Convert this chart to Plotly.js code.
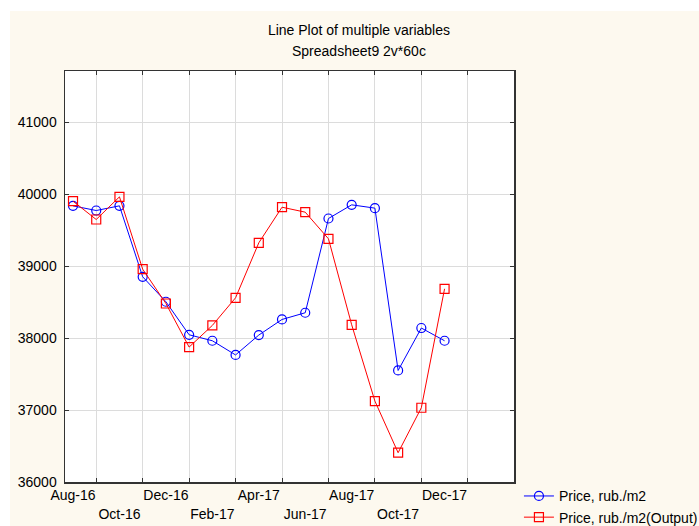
<!DOCTYPE html>
<html>
<head>
<meta charset="utf-8">
<script src="https://cdn.plot.ly/plotly-3.0.1.min.js"></script>
<style>
  html, body { margin: 0; padding: 0; background: #ffffff; }
  #chart { position: absolute; left: 10px; top: 11px; width: 689px; height: 515px; }
</style>
</head>
<body>
<div id="chart"></div>
<script>
// Month categories (cases)
const months = ["Aug-16","Sep-16","Oct-16","Nov-16","Dec-16","Jan-17","Feb-17","Mar-17",
                "Apr-17","May-17","Jun-17","Jul-17","Aug-17","Sep-17","Oct-17","Nov-17","Dec-17"];
// Series values
const priceActual = [39838, 39773, 39838, 38852, 38505, 38046, 37963, 37766, 38042,
                     38259, 38352, 39662, 39852, 39806, 37550, 38140, 37963];
const priceOutput = [39903, 39648, 39963, 38958, 38481, 37875, 38176, 38560, 39324,
                     39819, 39750, 39380, 38185, 37125, 36407, 37032, 38685];
const seriesNames = ["Price, rub./m2", "Price, rub./m2(Output)"];
const yTicks = [36000, 37000, 38000, 39000, 40000, 41000];

const idx = months.map((_, i) => i);
// labelled months: every second case, alternating rows
const labelVals = idx.filter(i => i % 2 === 0);
const labelText = labelVals.map((i, k) => (k % 2 === 1 ? "<br>" : "") + months[i]);
// grid/tick positions: the cases in between
const gridVals = idx.filter(i => i % 2 === 1).concat([months.length]);

const font = { family: "Liberation Sans, Arial, sans-serif", size: 14, color: "#000" };

const traces = [
  {
    x: idx, y: priceActual, name: seriesNames[0], type: "scatter", mode: "lines+markers",
    line: { color: "#0000ff", width: 1 },
    marker: { symbol: "circle-open", size: 9, color: "#0000ff", line: { width: 1.2 } }
  },
  {
    x: idx, y: priceOutput, name: seriesNames[1], type: "scatter", mode: "lines+markers",
    line: { color: "#ff0000", width: 1 },
    marker: { symbol: "square-open", size: 9, color: "#ff0000", line: { width: 1.2 } }
  }
];

const layout = {
  width: 689, height: 515,
  margin: { l: 55, r: 185, t: 60, b: 44, autoexpand: false },
  paper_bgcolor: "#fdf9ef",
  plot_bgcolor: "#ffffff",
  font: font,
  showlegend: true,
  title: {
    text: "Line Plot of multiple variables",
    font: font, xref: "container", x: 0.5065, xanchor: "center",
    yref: "container", y: 0.963, yanchor: "middle"
  },
  annotations: [{
    text: "Spreadsheet9 2v*60c", showarrow: false, font: font,
    xref: "paper", x: 0.655, xanchor: "center",
    yref: "paper", y: 1.049, yanchor: "middle"
  }],
  xaxis: {
    range: [-0.345, 18.99], automargin: false, tickangle: 0,
    tickmode: "array", tickvals: labelVals, ticktext: labelText,
    ticks: "", showgrid: false, zeroline: false,
    showline: true, linecolor: "#333", linewidth: 1.5, mirror: "allticks",
    tickfont: font,
    minor: {
      tickmode: "array", tickvals: gridVals,
      ticks: "inside", ticklen: 4, tickcolor: "#333", tickwidth: 1,
      showgrid: true, gridcolor: "#dcdcdc", gridwidth: 1
    }
  },
  yaxis: {
    range: [36000, 41712], automargin: false,
    tickmode: "array", tickvals: yTicks, tickformat: "d",
    ticks: "inside", ticklen: 4, tickcolor: "#333",
    showgrid: true, gridcolor: "#dcdcdc", gridwidth: 1, zeroline: false,
    showline: true, linecolor: "#333", linewidth: 1.5, mirror: "allticks",
    tickfont: font, ticklabelstandoff: 4
  },
  legend: {
    x: 1.011, xanchor: "left", y: 0.004, yanchor: "top",
    bgcolor: "rgba(0,0,0,0)", font: font, tracegroupgap: 0
  }
};

Plotly.newPlot("chart", traces, layout, { displayModeBar: false, staticPlot: true });
</script>
</body>
</html>
